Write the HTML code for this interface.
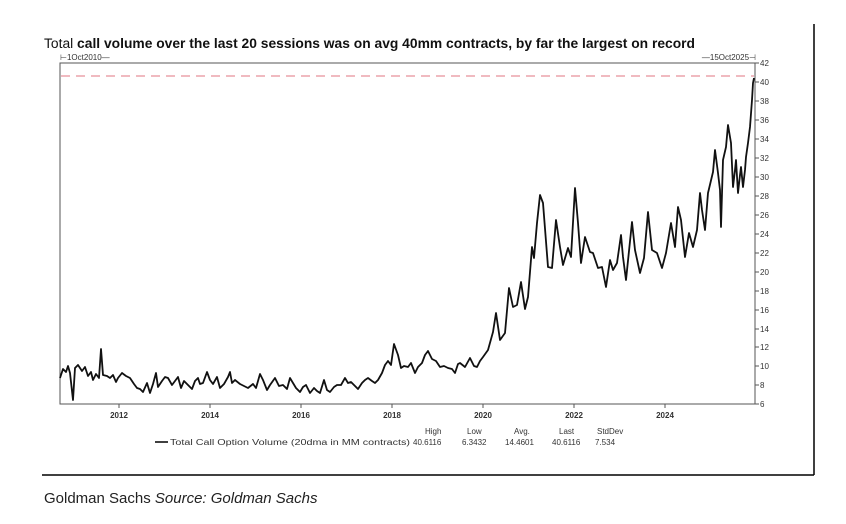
<!DOCTYPE html>
<html><head><meta charset="utf-8"><style>
html,body{margin:0;padding:0;background:#fff;width:846px;height:524px;overflow:hidden}
svg{display:block}
</style></head><body>
<svg width="846" height="524" viewBox="0 0 846 524" xmlns="http://www.w3.org/2000/svg" font-family="Liberation Sans, sans-serif">
<line x1="814" y1="24" x2="814" y2="475" stroke="#000" stroke-width="1.5"/>
<line x1="42" y1="475" x2="814" y2="475" stroke="#000" stroke-width="1.5"/>
<text x="44" y="48" font-size="13.5" fill="#111" textLength="651" lengthAdjust="spacingAndGlyphs">Total <tspan font-weight="bold">call volume over the last 20 sessions was on avg 40mm contracts, by far the largest on record</tspan></text>
<text x="60" y="60" font-size="8" fill="#333">⊢1Oct2010—</text>
<text x="756" y="60" font-size="8" fill="#333" text-anchor="end">—15Oct2025⊣</text>
<rect x="60" y="63" width="695" height="341" fill="none" stroke="#555" stroke-width="1"/>
<line x1="61" y1="76" x2="754" y2="76" stroke="#e8909a" stroke-width="1.3" stroke-dasharray="9,6"/>
<g font-size="8" fill="#333">
<g stroke="#555" stroke-width="1">
<line x1="755" y1="63" x2="759" y2="63"/><line x1="755" y1="82" x2="759" y2="82"/><line x1="755" y1="101" x2="759" y2="101"/><line x1="755" y1="120" x2="759" y2="120"/><line x1="755" y1="139" x2="759" y2="139"/><line x1="755" y1="158" x2="759" y2="158"/><line x1="755" y1="177" x2="759" y2="177"/><line x1="755" y1="196" x2="759" y2="196"/><line x1="755" y1="215" x2="759" y2="215"/><line x1="755" y1="234" x2="759" y2="234"/><line x1="755" y1="253" x2="759" y2="253"/><line x1="755" y1="272" x2="759" y2="272"/><line x1="755" y1="291" x2="759" y2="291"/><line x1="755" y1="310" x2="759" y2="310"/><line x1="755" y1="329" x2="759" y2="329"/><line x1="755" y1="347" x2="759" y2="347"/><line x1="755" y1="366" x2="759" y2="366"/><line x1="755" y1="385" x2="759" y2="385"/><line x1="755" y1="404" x2="759" y2="404"/>
<line x1="119" y1="404" x2="119" y2="408"/><line x1="210" y1="404" x2="210" y2="408"/><line x1="301" y1="404" x2="301" y2="408"/><line x1="392" y1="404" x2="392" y2="408"/><line x1="483" y1="404" x2="483" y2="408"/><line x1="574" y1="404" x2="574" y2="408"/><line x1="665" y1="404" x2="665" y2="408"/>
</g>
<text x="760" y="66">42</text><text x="760" y="85">40</text><text x="760" y="104">38</text><text x="760" y="123">36</text><text x="760" y="142">34</text><text x="760" y="161">32</text><text x="760" y="180">30</text><text x="760" y="199">28</text><text x="760" y="218">26</text><text x="760" y="237">24</text><text x="760" y="256">22</text><text x="760" y="275">20</text><text x="760" y="294">18</text><text x="760" y="313">16</text><text x="760" y="332">14</text><text x="760" y="350">12</text><text x="760" y="369">10</text><text x="760" y="388">8</text><text x="760" y="407">6</text>
<g text-anchor="middle" font-weight="bold"><text x="119" y="418">2012</text><text x="210" y="418">2014</text><text x="301" y="418">2016</text><text x="392" y="418">2018</text><text x="483" y="418">2020</text><text x="574" y="418">2022</text><text x="665" y="418">2024</text></g>
<text x="425" y="434">High</text><text x="467" y="434">Low</text><text x="514" y="434">Avg.</text><text x="559" y="434">Last</text><text x="597" y="434">StdDev</text>
<line x1="155" y1="442" x2="168" y2="442" stroke="#000" stroke-width="1.5"/>
<text x="170" y="445" textLength="240" lengthAdjust="spacingAndGlyphs">Total Call Option Volume (20dma in MM contracts)</text><text x="413" y="445">40.6116</text><text x="462" y="445">6.3432</text><text x="505" y="445">14.4601</text><text x="552" y="445">40.6116</text><text x="595" y="445">7.534</text>
</g>
<polyline fill="none" stroke="#111" stroke-width="1.8" stroke-linejoin="round" points="60,378 63,369 66,372 68,366 70,373 73,400 75,368 78,365 82,371 85,367 88,376 91,372 93,380 96,374 99,378 101,349 103,375 107,376 110,378 113,375 116,382 118,378 122,373 126,376 130,378 134,384 137,388 140,389 143,392 147,383 150,393 153,384 156,373 158,387 162,381 165,377 168,378 172,385 175,381 178,377 181,388 184,381 188,385 192,389 195,381 198,378 200,384 203,383 207,372 210,380 213,384 217,377 220,388 224,384 228,377 230,372 232,383 235,380 240,384 244,386 248,388 253,384 256,388 260,374 263,380 267,390 270,385 275,378 279,386 283,385 287,389 290,378 293,383 296,388 300,392 303,387 306,385 310,393 314,388 317,391 320,393 324,380 327,390 330,392 334,387 337,385 341,385 345,378 348,383 351,382 354,385 358,389 362,383 365,380 368,378 372,381 375,383 378,380 382,373 385,365 388,361 391,365 394,344 398,355 401,368 404,366 408,367 411,363 415,373 418,367 422,363 425,355 428,351 432,359 436,361 440,367 444,366 448,368 452,369 455,373 458,364 460,363 465,367 470,358 474,366 477,367 480,361 483,357 488,350 493,332 496,313 500,340 505,333 509,288 513,307 517,305 521,282 525,309 528,297 532,247 534,258 537,223 540,195 543,203 548,267 552,268 556,220 560,247 563,265 568,248 571,257 575,188 578,223 581,263 585,237 590,252 593,253 598,268 602,267 606,287 610,260 613,270 617,263 621,235 623,257 626,280 632,222 635,250 640,273 644,258 648,212 652,250 657,253 662,268 666,253 671,223 675,247 678,207 681,220 685,257 689,233 693,247 697,230 700,193 702,210 705,230 708,193 713,172 715,150 718,173 720,190 721,227 723,160 726,147 728,125 731,143 733,187 735,170 736,160 738,193 740,175 741,167 743,187 745,170 746,157 748,143 750,127 752,100 753,83 754,78"/>
<text x="44" y="503" font-size="15" fill="#222">Goldman Sachs <tspan font-style="italic">Source: Goldman Sachs</tspan></text>
</svg>
</body></html>
